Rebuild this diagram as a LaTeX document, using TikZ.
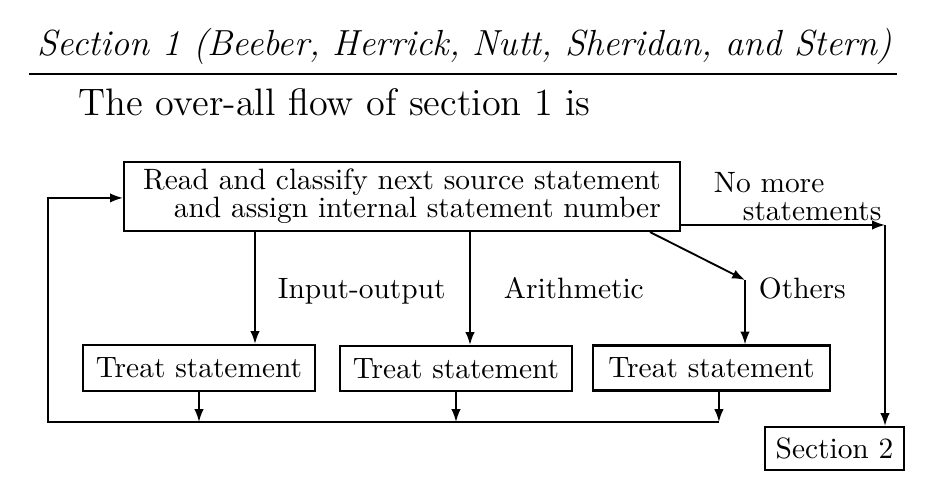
\documentclass[tikz,border=0pt]{standalone}
\usetikzlibrary{arrows.meta}

\begin{document}
\begin{tikzpicture}[
  x=0.35pt, y=-0.35pt,
  >={Latex[length=4.5pt,width=3.3pt]},
  line width=0.65pt,
  box/.style={draw, line width=0.75pt, inner sep=0pt, align=center,
    font=\fontsize{10.3}{9.8}\selectfont},
  lbl/.style={anchor=base west, inner sep=0pt,
    font=\fontsize{10.3}{9.8}\selectfont},
]
\useasboundingbox (0,0) rectangle (930,494);
% heading
\node[anchor=base west, inner sep=0pt, font=\fontsize{12.7}{14}\selectfont\itshape]
  (title) at (37,55) {Section 1 (Beeber, Herrick, Nutt, Sheridan, and Stern)};
\draw[line width=0.85pt] (29,74) -- (897,74);
\node[anchor=base west, inner sep=0pt, font=\fontsize{13.4}{15}\selectfont]
  (intro) at (78,115) {The over-all flow of section 1 is};
% boxes
\node[box, minimum width=194.6pt, minimum height=24.15pt, align=right] (read) at (402,196.5)
  {Read and classify next source statement\\and assign internal statement number};
\node[box, minimum width=81.2pt, minimum height=16.1pt] (treatA) at (199,368) {Treat statement};
\node[box, minimum width=81.2pt, minimum height=15.75pt] (treatB) at (456,368.5) {Treat statement};
\node[box, minimum width=82.95pt, minimum height=15.75pt] (treatC) at (711.5,368) {Treat statement};
\node[box, minimum width=48.65pt, minimum height=15.05pt] (sec2) at (834.5,448.5) {Section 2};
% labels
\node[lbl] (io) at (277,298) {Input-output};
\node[lbl] (arith) at (503,298) {Arithmetic};
\node[lbl] (others) at (758,298) {Others};
\node[lbl] (nomore) at (713,192) {No more};
\node[lbl] (nostmt) at (742,220) {statements};
% branches out of read
\coordinate (ioTop) at ([xshift=-51.45pt]read.south);
\coordinate (arTop) at ([xshift=23.8pt]read.south);
\coordinate (otTop) at ([xshift=86.8pt]read.south);
\coordinate (otBend) at (745,280);
\coordinate (endR) at (885,225);
\draw[->] (ioTop) -- (ioTop |- treatA.north);
\draw[->] (arTop) -- (arTop |- treatB.north);
\draw[->] (otTop) -- (otBend);
\draw[->] (otBend) -- (otBend |- treatC.north);
\draw[->] (read.east |- endR) -- (endR);
\draw[->] (endR) -- (endR |- sec2.north);
% return loop
\coordinate (loopL) at (48,422);
\coordinate (outC) at ([xshift=2.6pt]treatC.south);
\draw[->] (treatA.south) -- (treatA.south |- loopL);
\draw[->] (treatB.south) -- (treatB.south |- loopL);
\draw[->] (outC) -- (outC |- loopL);
\draw[->] (outC |- loopL) -- (loopL) |- ([yshift=-0.5pt]read.west);
\end{tikzpicture}
\end{document}
